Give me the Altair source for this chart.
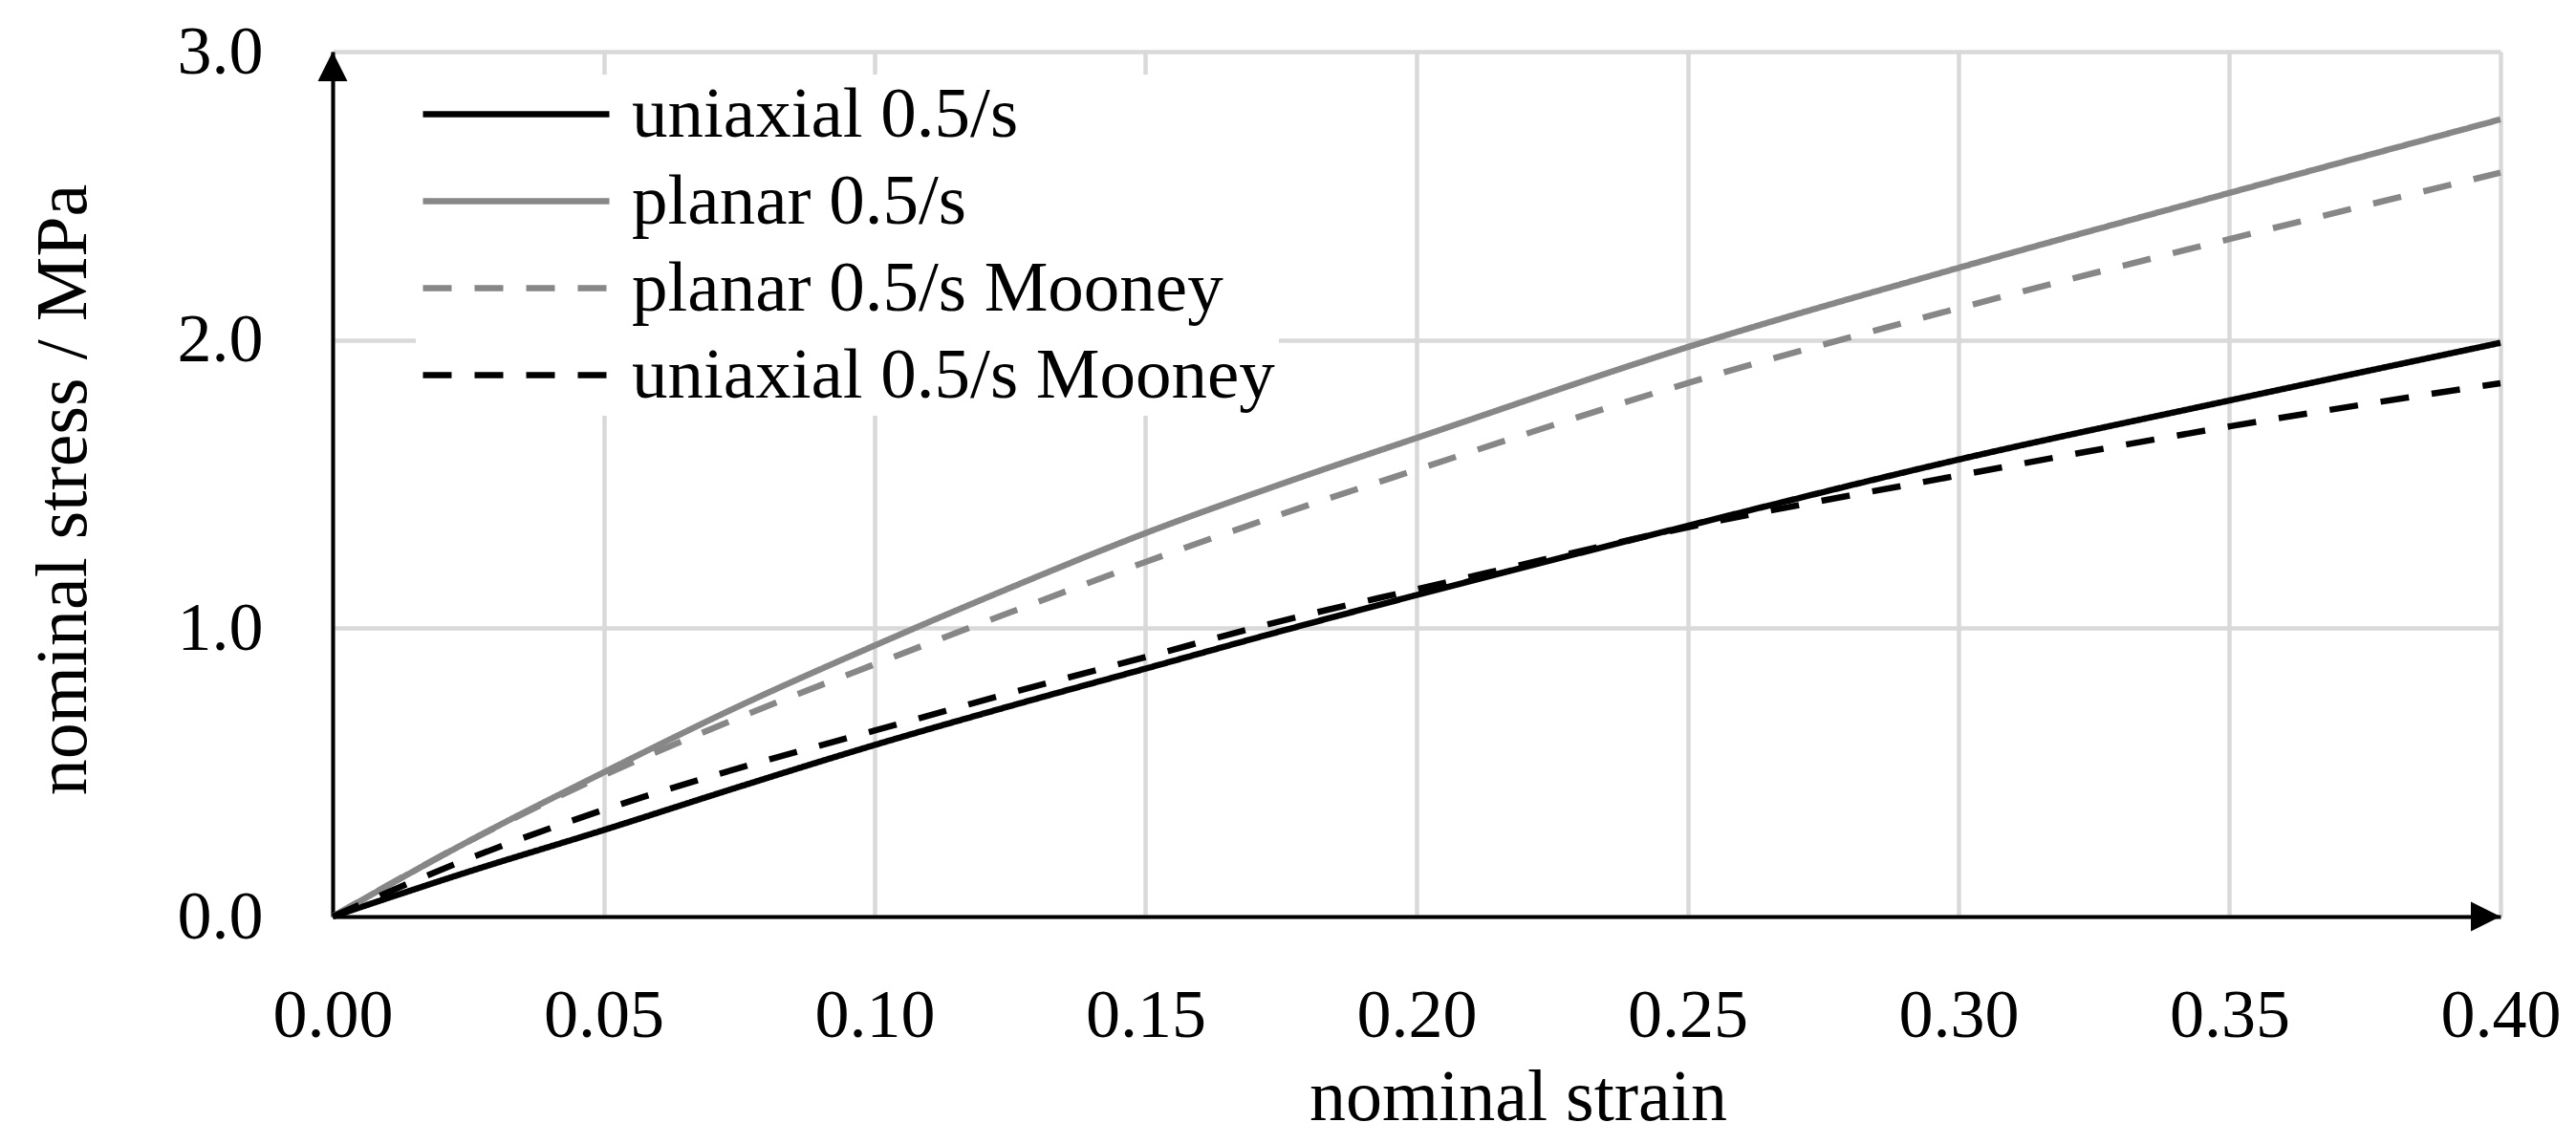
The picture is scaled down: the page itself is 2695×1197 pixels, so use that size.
import altair as alt
import pandas as pd

# ---- data ----
strain = [0, 0.025, 0.05, 0.075, 0.10, 0.125, 0.15, 0.175, 0.20, 0.25, 0.30, 0.35, 0.40]
uniaxial = [0, 0.155, 0.30, 0.45, 0.595, 0.73, 0.86, 0.99, 1.115, 1.355, 1.585, 1.79, 1.99]
planar = [0, 0.26, 0.50, 0.73, 0.94, 1.14, 1.33, 1.50, 1.66, 1.975, 2.25, 2.51, 2.765]
planar_mooney = [0, 0.26, 0.49, 0.69, 0.875, 1.055, 1.23, 1.395, 1.55, 1.85, 2.11, 2.35, 2.58]
uniaxial_mooney = [0, 0.20, 0.37, 0.515, 0.645, 0.775, 0.90, 1.025, 1.135, 1.35, 1.53, 1.70, 1.85]

series_names = ["uniaxial 0.5/s", "planar 0.5/s", "planar 0.5/s Mooney", "uniaxial 0.5/s Mooney"]
series_values = [uniaxial, planar, planar_mooney, uniaxial_mooney]
series_colors = ["#000000", "#878787", "#878787", "#000000"]
series_dash = [[1, 0], [1, 0], [30, 24], [30, 24]]

x_ticks = [0.0, 0.05, 0.10, 0.15, 0.20, 0.25, 0.30, 0.35, 0.40]
y_ticks = [0.0, 1.0, 2.0, 3.0]
x_domain = [0.0, 0.40]
y_domain = [0.0, 3.0]

FONT = "Liberation Serif"

rows = []
for k, (name, vals) in enumerate(zip(series_names, series_values)):
    for s, v in zip(strain, vals):
        rows.append({"strain": s, "stress": v, "series": name, "k": k})
df = pd.DataFrame(rows)

xscale = alt.Scale(domain=x_domain, nice=False, zero=True)
yscale = alt.Scale(domain=y_domain, nice=False, zero=True)

x_axis = alt.Axis(
    values=x_ticks, format=".2f", ticks=False, tickSize=0,
    labelFont=FONT, labelFontSize=72, labelColor="#000000",
    labelPadding=125, labelBaseline="alphabetic", labelFlush=False, labelOverlap=False,
    domainColor="#000000", domainWidth=4,
    grid=True, gridColor="#d9d9d9", gridWidth=4.5,
    title="nominal strain", titleFont=FONT, titleFontSize=76, titleFontWeight="normal",
    titleColor="#000000", titleX=1240, titleY=212, titleBaseline="alphabetic", titleAlign="center",
)
y_axis = alt.Axis(
    values=y_ticks, format=".1f", ticks=False, tickSize=0,
    labelFont=FONT, labelFontSize=72, labelColor="#000000",
    labelPadding=73, labelAlign="right", labelBaseline="middle", labelOverlap=False,
    domainColor="#000000", domainWidth=4,
    grid=True, gridColor="#d9d9d9", gridWidth=4.5,
    title="nominal stress / MPa", titleFont=FONT, titleFontSize=76, titleFontWeight="normal",
    titleColor="#000000", titleAngle=270, titleX=-259, titleY=458,
    titleBaseline="alphabetic", titleAlign="center",
)

lines = alt.Chart(df).mark_line(strokeWidth=6.5, strokeCap="butt", interpolate="monotone").encode(
    x=alt.X("strain:Q", scale=xscale, axis=x_axis),
    y=alt.Y("stress:Q", scale=yscale, axis=y_axis),
    color=alt.Color("series:N", scale=alt.Scale(domain=series_names, range=series_colors),
                    sort=series_names, title=None),
    strokeDash=alt.StrokeDash("series:N", scale=alt.Scale(domain=series_names, range=series_dash),
                              sort=series_names, title=None),
    order="k:Q",
)

arrow_up = alt.Chart(pd.DataFrame({"strain": [x_domain[0]], "stress": [y_domain[1]]})).mark_point(
    shape="M0,-1L1,1L-1,1Z", size=961, filled=True, color="#000000", opacity=1, yOffset=15.5
).encode(x=alt.X("strain:Q", scale=xscale), y=alt.Y("stress:Q", scale=yscale))

arrow_right = alt.Chart(pd.DataFrame({"strain": [x_domain[1]], "stress": [y_domain[0]]})).mark_point(
    shape="M1,0L-1,1L-1,-1Z", size=961, filled=True, color="#000000", opacity=1, xOffset=-15.5
).encode(x=alt.X("strain:Q", scale=xscale), y=alt.Y("stress:Q", scale=yscale))

chart = alt.layer(lines, arrow_up, arrow_right).properties(
    width=2268, height=905,
    autosize=alt.AutoSizeParams(type="none"),
    padding={"left": 340, "top": 46, "right": 71, "bottom": 230},
    background="#ffffff",
).configure_view(strokeWidth=0).configure(font=FONT).configure_legend(
    orient="none", legendX=87, legendY=24, padding=4, fillColor="#ffffff",
    symbolType="stroke", symbolSize=38025, symbolStrokeWidth=6.5, clipHeight=75,
    labelFont=FONT, labelFontSize=75, labelColor="#000000", labelOffset=20,
    rowPadding=15, labelLimit=0,
)

chart.save("out.html", embed_options={"renderer": "svg", "actions": False})
